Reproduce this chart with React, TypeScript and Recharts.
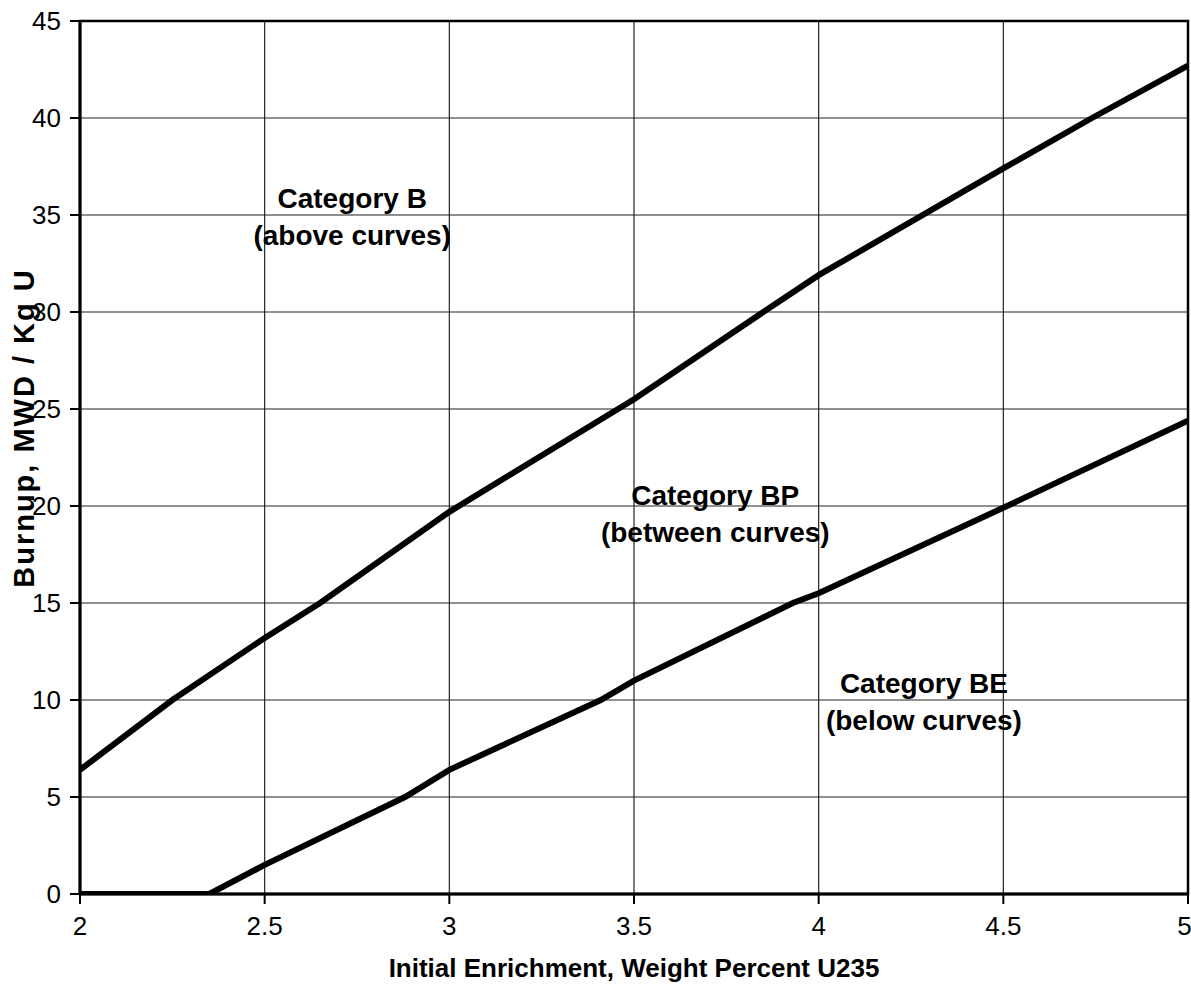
import React from "react";
import {
  LineChart,
  Line,
  XAxis,
  YAxis,
  CartesianGrid,
  ReferenceArea,
  ReferenceDot,
  Label,
} from "recharts";

// Upper curve (boundary between Category B and BP)
const upperEnrichment = [2, 2.25, 2.5, 2.65, 3, 3.5, 3.85, 4, 4.5, 4.74, 5];
const upperBurnup = [6.4, 10, 13.2, 15, 19.7, 25.5, 30, 31.9, 37.4, 40, 42.7];

// Lower curve (boundary between Category BP and BE)
const lowerEnrichment = [2, 2.35, 2.5, 2.88, 3, 3.41, 3.5, 3.93, 4, 4.51, 5];
const lowerBurnup = [0, 0, 1.5, 5, 6.4, 10, 11, 15, 15.5, 20, 24.4];

const xTicks = [2, 2.5, 3, 3.5, 4, 4.5, 5];
const yTicks = [0, 5, 10, 15, 20, 25, 30, 35, 40, 45];

const annotations = [
  { x: 2.737, y: 34.9, line1: "Category B", line2: "(above curves)" },
  { x: 3.72, y: 19.6, line1: "Category BP", line2: "(between curves)" },
  { x: 4.285, y: 9.9, line1: "Category BE", line2: "(below curves)" },
];

const upperData = upperEnrichment.map((x, i) => ({ x, y: upperBurnup[i] }));
const lowerData = lowerEnrichment.map((x, i) => ({ x, y: lowerBurnup[i] }));

const FONT = "'Liberation Sans', Arial, Helvetica, sans-serif";

const AnnotationLabel = (props: any) => {
  const { viewBox, line1, line2 } = props;
  const cx = viewBox.x + (viewBox.width || 0) / 2;
  const cy = viewBox.y + (viewBox.height || 0) / 2;
  return (
    <g>
      <text
        x={cx}
        y={cy - 18}
        textAnchor="middle"
        dominantBaseline="central"
        fontFamily={FONT}
        fontWeight="bold"
        fontSize={28}
        fill="#000"
      >
        {line1}
      </text>
      <text
        x={cx}
        y={cy + 19}
        textAnchor="middle"
        dominantBaseline="central"
        fontFamily={FONT}
        fontWeight="bold"
        fontSize={28}
        fill="#000"
      >
        {line2}
      </text>
    </g>
  );
};

export default function App() {
  return (
    <div style={{ position: "absolute", left: 0, top: 0, background: "#fff" }}>
      <LineChart
        width={1191}
        height={989}
        margin={{ top: 21, right: 3, bottom: 0, left: 0 }}
        style={{ background: "#fff" }}
      >
        <CartesianGrid stroke="#222" strokeWidth={1.2} />
        <XAxis
          type="number"
          dataKey="x"
          domain={[2, 5]}
          ticks={xTicks}
          allowDataOverflow
          height={95}
          tickSize={10}
          tickMargin={13}
          axisLine={{ stroke: "#000", strokeWidth: 3 }}
          tickLine={{ stroke: "#000", strokeWidth: 2 }}
          tick={{ fill: "#000", fontSize: 26, fontFamily: FONT }}
        >
          <Label
            content={(p: any) => (
              <text
                x={p.viewBox.x + p.viewBox.width / 2}
                y={968}
                textAnchor="middle"
                dominantBaseline="central"
                fontFamily={FONT}
                fontWeight="bold"
                fontSize={26}
                fill="#000"
              >
                Initial Enrichment, Weight Percent U235
              </text>
            )}
          />
        </XAxis>
        <YAxis
          type="number"
          dataKey="y"
          domain={[0, 45]}
          ticks={yTicks}
          allowDataOverflow
          width={80}
          tickSize={10}
          tickMargin={9}
          axisLine={{ stroke: "#000", strokeWidth: 3 }}
          tickLine={{ stroke: "#000", strokeWidth: 2 }}
          tick={{ fill: "#000", fontSize: 26, fontFamily: FONT }}
        >
          <Label
            content={() => (
              <text
                x={24}
                y={428}
                transform="rotate(-90 24 428)"
                textAnchor="middle"
                dominantBaseline="central"
                fontFamily={FONT}
                fontWeight="bold"
                fontSize={29}
                letterSpacing={2}
                fill="#000"
              >
                Burnup, MWD / Kg U
              </text>
            )}
          />
        </YAxis>
        <ReferenceArea
          x1={2}
          x2={5}
          y1={0}
          y2={45}
          fill="none"
          stroke="#000"
          strokeWidth={2.5}
        />
        <Line
          data={upperData}
          dataKey="y"
          type="linear"
          stroke="#000"
          strokeWidth={6}
          dot={false}
          isAnimationActive={false}
        />
        <Line
          data={lowerData}
          dataKey="y"
          type="linear"
          stroke="#000"
          strokeWidth={6}
          dot={false}
          isAnimationActive={false}
        />
        {annotations.map((a, i) => (
          <ReferenceDot
            key={i}
            x={a.x}
            y={a.y}
            r={0}
            fill="none"
            stroke="none"
            label={<AnnotationLabel line1={a.line1} line2={a.line2} />}
          />
        ))}
      </LineChart>
    </div>
  );
}
